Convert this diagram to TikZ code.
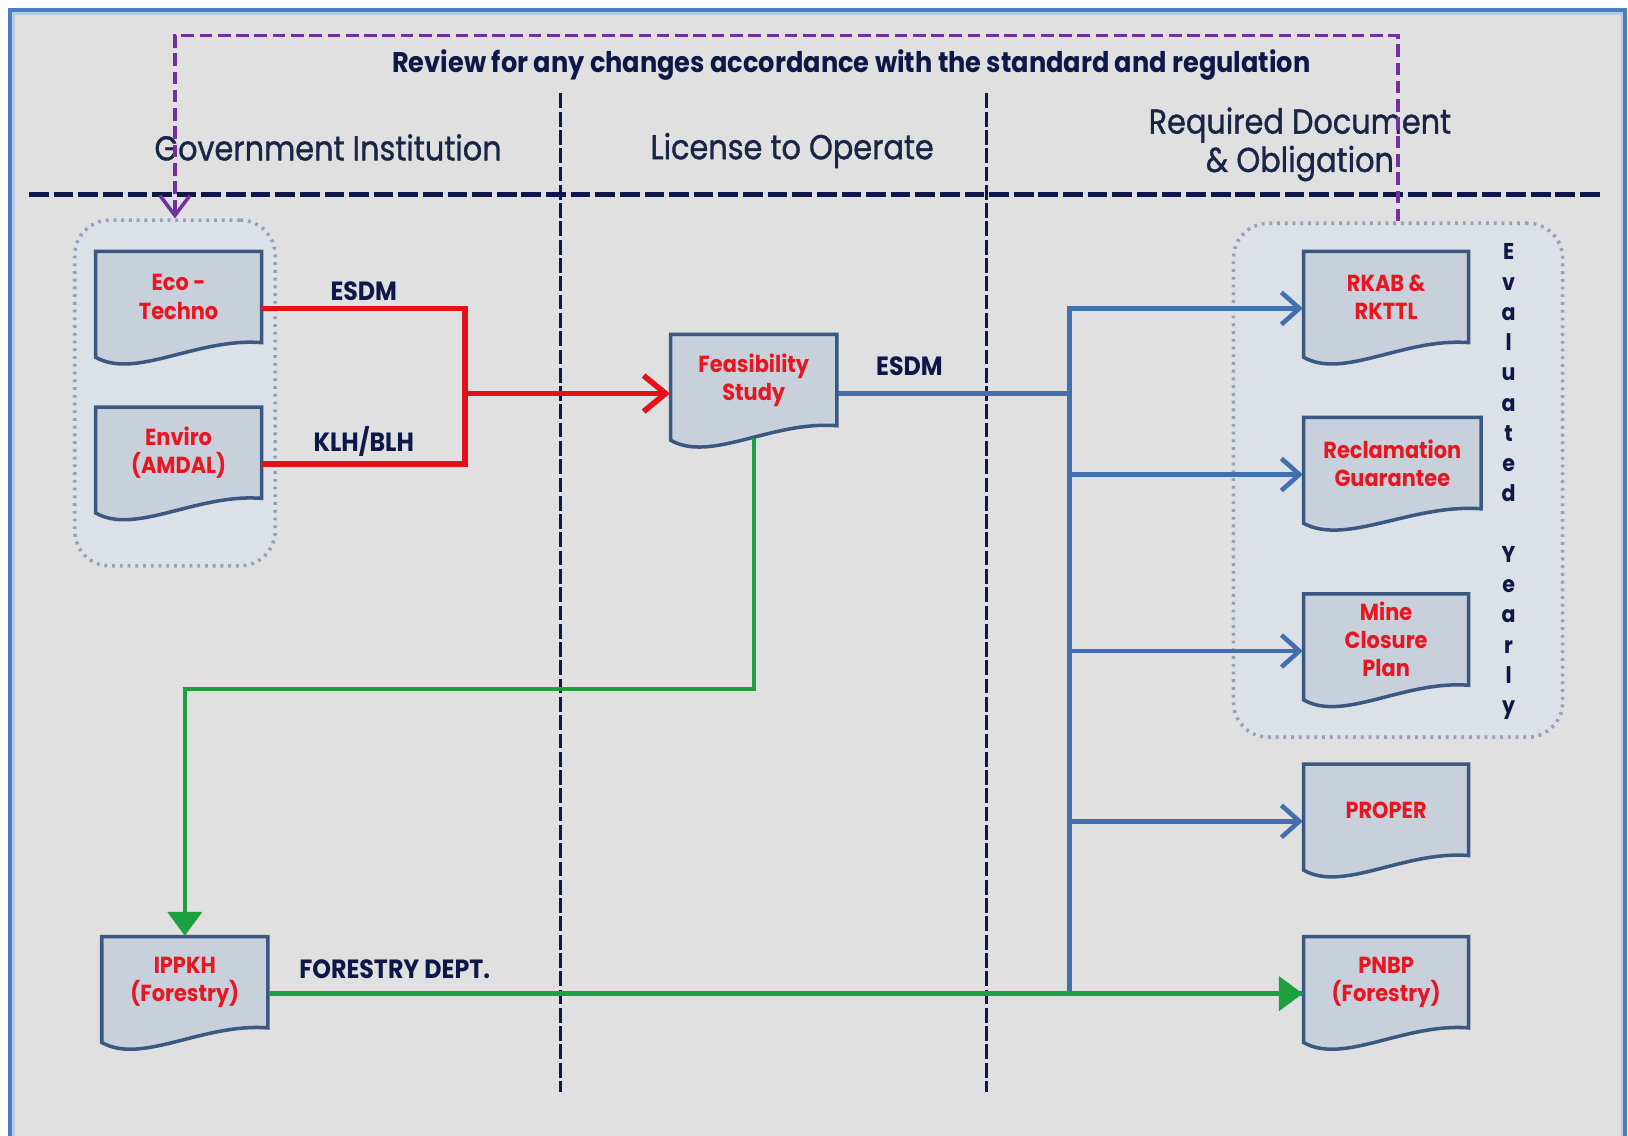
\documentclass[tikz,border=0pt]{standalone}
\usepackage{fontspec}
\setmainfont{Poppins}[FakeStretch=0.9]
\newfontfamily\hdrfont{Poppins}[FakeStretch=0.88, FakeBold=1]
\usetikzlibrary{calc,arrows.meta}

\definecolor{bgGray}{RGB}{224,224,224}
\definecolor{frameBlue}{RGB}{74,126,192}
\definecolor{docFill}{RGB}{200,208,220}
\definecolor{docEdge}{RGB}{58,88,128}
\definecolor{docRed}{RGB}{232,22,32}
\definecolor{navy}{RGB}{14,24,72}
\definecolor{hdrNavy}{RGB}{26,36,70}
\definecolor{lineRed}{RGB}{226,18,24}
\definecolor{lineBlue}{RGB}{64,112,176}
\definecolor{lineGreen}{RGB}{28,160,64}
\definecolor{revPurple}{RGB}{112,48,160}
\definecolor{grpDot}{RGB}{150,160,182}
\definecolor{grpFill}{RGB}{220,224,231}

\def\pxu{0.010383cm}
% document shape: name (x,y) width text
\def\docnode#1(#2,#3)#4#5{%
  \draw[docline] (#2-#4/2,#3-44) -- (#2+#4/2,#3-44) -- (#2+#4/2,#3+44)
    .. controls (#2+0.11*#4,#3+39) and (#2-0.26*#4,#3+80) .. (#2-#4/2,#3+58) -- cycle;
  \node[doctext, minimum width=#4*\pxu] (#1) at (#2,#3) {#5};}

\begin{document}
\begin{tikzpicture}[x=\pxu, y=-\pxu,
    docline/.style={draw=docEdge, fill=docFill, line width=1pt},
    doctext/.style={inner sep=0pt, minimum height=88*\pxu, align=center, text=docRed,
      font=\bfseries\fontsize{6.6}{8}\selectfont},
    hdr/.style={text=hdrNavy, align=center, font=\hdrfont\fontsize{9.8}{10.9}\selectfont},
    lbl/.style={text=navy, inner sep=1.5pt, font=\bfseries\fontsize{7.5}{8}\selectfont},
    hdivider/.style={navy, line width=1.5pt, dash pattern=on 5.6pt off 1.4pt},
    vdivider/.style={navy, line width=1pt, dash pattern=on 4.2pt off 1pt},
    grpbox/.style={draw=grpDot, fill=grpFill, line width=1pt, rounded corners=0.35cm,
      dash pattern=on 0.8pt off 1.4pt},
    revline/.style={revPurple, line width=1pt, dash pattern=on 3.6pt off 1.6pt},
    redline/.style={lineRed, line width=1.6pt},
    blueline/.style={lineBlue, line width=1.3pt},
    greenline/.style={lineGreen, line width=1.3pt}]
			%%%%% START %%%%%
			
			\useasboundingbox (0,0) rectangle (1568,1094);
			\fill[white] (0,0) rectangle (1568,1094);
			\fill[bgGray] (10,10) rectangle (1565,1094);
			\draw[frameBlue, line width=1.2pt] (10,1094) -- (10,10) -- (1565,10) -- (1565,1094);
			\draw[frameBlue!40, line width=0.6pt] (13,1094) -- (13,13) -- (1562,13) -- (1562,1094);
			
			% lanes
			\draw[vdivider] (540,90) -- (540,1052);
			\draw[vdivider] (950,90) -- (950,1052);
			\draw[hdivider] (28,187) -- (1545,187);
			
			\node[hdr] (govhdr) at (316,142) {Government Institution};
			\node[hdr] (lichdr) at (763,145) {License to Operate};
			\node[hdr] (reqhdr) at (1252,139) {Required Document\\\& Obligation};
			
			% groups
			\node[grpbox, minimum width=193*\pxu, minimum height=333*\pxu] (govgrp) at (168.5,378.5) {};
			\node[grpbox, minimum width=317*\pxu, minimum height=495*\pxu] (reqgrp) at (1346.5,462.5) {};
			
			\node[text=navy, align=center, font=\bfseries\fontsize{6.5}{8.6}\selectfont] (evalyr) at (1453,464)
			  {E\\v\\a\\l\\u\\a\\t\\e\\d\\[8.6pt]Y\\e\\a\\r\\l\\y};
			
			% review loop
			\draw[revline, -{Straight Barb[length=2mm, width=3mm]}] (reqgrp.north) -- ++(0,-179) -| (govgrp.north);
			\node[text=navy, font=\bfseries\fontsize{8.1}{9}\selectfont] (review) at (820,63)
			  {Review for any changes accordance with the standard and regulation};
			
			% documents
			\docnode{eco}(172,286){160}{Eco -\\Techno}
			\docnode{env}(172,436){160}{Enviro\\(AMDAL)}
			\docnode{feas}(726,366){160}{Feasibility\\Study}
			\docnode{ippkh}(178,946){160}{IPPKH\\(Forestry)}
			\docnode{rkab}(1335,286){159}{RKAB \&\\RKTTL}
			\docnode{recl}(1341,446){171}{Reclamation\\Guarantee}
			\docnode{mine}(1335,616){159}{Mine\\Closure\\Plan}
			\docnode{proper}(1335,780){159}{PROPER}
			\docnode{pnbp}(1335,946){159}{PNBP\\(Forestry)}
			
			% red
			\coordinate (redjoin) at (448,379);
			\draw[redline] ($(eco.east)+(0,11)$) -| (redjoin) node[lbl, above, pos=0.25] {ESDM};
			\draw[redline] ($(env.east)+(0,11)$) -| (redjoin) node[lbl, above, pos=0.25] {KLH/BLH};
			\draw[redline, -{Straight Barb[length=2.2mm, width=3.6mm]}] (redjoin) -- (feas.west |- redjoin);
			
			% blue
			\coordinate (bus) at (1030,379);
			\draw[blueline] (feas.east |- bus) -- (bus) node[lbl, above=3pt, pos=0.31] {ESDM};
			\foreach \d in {rkab,recl,mine,proper}
			  \draw[blueline, -{Straight Barb[length=1.8mm, width=3.2mm]}] (bus) |- ($(\d.west)+(0,11)$);
			\draw[blueline] (bus) |- ($(pnbp.west)+(0,11)$);
			
			% green
			\draw[greenline, -{Triangle[length=2.4mm, width=3.4mm]}] ($(feas.south)+(0,11)$) -- ++(0,242) -| (ippkh.north);
			\draw[greenline, -{Triangle[length=2.4mm, width=3.4mm]}] ($(ippkh.east)+(0,11)$) -- ($(pnbp.west)+(0,11)$)
			  node[lbl, above=2pt, pos=0.122] {FORESTRY DEPT.};
			
			%%%%% END %%%%%
\end{tikzpicture}
\end{document}
